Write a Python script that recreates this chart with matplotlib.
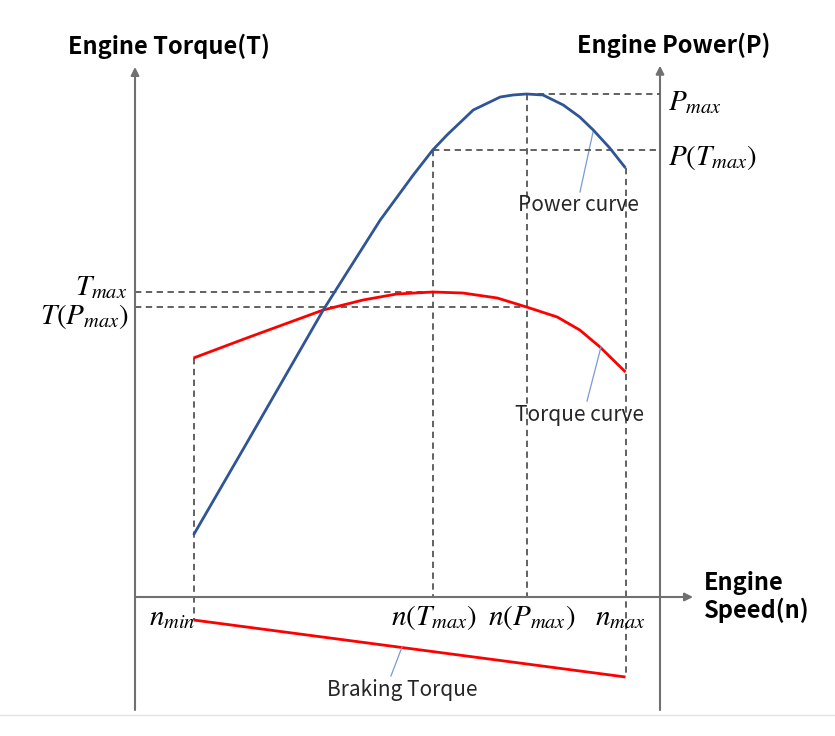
import matplotlib
matplotlib.use("Agg")
import matplotlib.pyplot as plt
from matplotlib.lines import Line2D

plt.rcParams['font.family'] = ['Noto Sans CJK KR', 'DejaVu Sans']
plt.rcParams['mathtext.fontset'] = 'stix'

# characteristic speeds (rpm)
n_min = 780
n_tmax = 3970
n_pmax = 5220
n_max = 6540

# power curve (kW)
power_speed = [780, 1490, 2510, 2830, 3270, 3710, 3970, 4160, 4510, 4870, 5040, 5220,
               5440, 5710, 5930, 6110, 6330, 6540]
power_vals = [24.8, 61.6, 114.8, 130.0, 150.8, 168.8, 178.8, 184.8, 194.8, 200.0, 200.8, 201.2,
              200.8, 196.8, 192.0, 186.8, 179.6, 171.6]

# torque curve (Nm)
torque_speed = [780, 1490, 2510, 3040, 3490, 3970, 4370, 4830, 5220, 5630, 5930, 6200, 6540]
torque_vals = [239, 259, 287, 297, 303, 305, 304, 299, 290, 280, 267, 250, 225]

# braking torque (Nm)
brake_speed = [780, 6540]
brake_vals = [-23, -80]

t_max = 305
t_at_pmax = 290
p_max = 201.2
p_at_tmax = 178.8

T_LIM = (-113, 530)
P_LIM = (-45.2, 212)


def p2t(p):
    return T_LIM[0] + (p - P_LIM[0]) / (P_LIM[1] - P_LIM[0]) * (T_LIM[1] - T_LIM[0])


fig = plt.figure(figsize=(8.35, 7.36), dpi=100)
ax = fig.add_axes([135 / 835, 26 / 736, 525 / 835, 643 / 736])
ax.set_xlim(0, 7000)
ax.set_ylim(*T_LIM)
ax2 = ax.twinx()
ax2.set_ylim(*P_LIM)
for a in (ax, ax2):
    a.set_axis_off()

axis_col = '#707070'
dash_col = '#555555'
arr = dict(arrowstyle='-|>', color=axis_col, lw=1.5, mutation_scale=12, shrinkA=0, shrinkB=0)

# axes lines with arrows
ax.annotate('', xy=(0, 1.0), xytext=(0, 0), xycoords='axes fraction', arrowprops=arr)
ax.annotate('', xy=(1, 1.002), xytext=(1, 0), xycoords='axes fraction', arrowprops=arr)
ax.annotate('', xy=(7440, 0), xytext=(0, 0), xycoords='data', arrowprops=arr, annotation_clip=False)

ds = (0, (3.5, 2.5))
# horizontal dashed guides
ax.plot([0, n_tmax], [t_max, t_max], color=dash_col, lw=1.3, ls=ds)
ax.plot([0, n_pmax], [t_at_pmax, t_at_pmax], color=dash_col, lw=1.3, ls=ds)
ax2.plot([n_tmax, 7000], [p_at_tmax, p_at_tmax], color=dash_col, lw=1.3, ls=ds)
ax2.plot([n_pmax, 7000], [p_max, p_max], color=dash_col, lw=1.3, ls=ds)
# vertical dashed guides
ax.plot([n_min, n_min], [torque_vals[0], brake_vals[0]], color=dash_col, lw=1.3, ls=ds)
ax.plot([n_tmax, n_tmax], [p2t(p_at_tmax), 0], color=dash_col, lw=1.3, ls=ds)
ax.plot([n_pmax, n_pmax], [p2t(p_max), 0], color=dash_col, lw=1.3, ls=ds)
ax.plot([n_max, n_max], [p2t(power_vals[-1]), brake_vals[-1]], color=dash_col, lw=1.3, ls=ds)

# curves
ax2.plot(power_speed, power_vals, color='#2f5597', lw=2.0, solid_capstyle='butt', solid_joinstyle='round')
ax.plot(torque_speed, torque_vals, color='#ff0000', lw=2.0, solid_capstyle='butt', solid_joinstyle='round')
ax.plot(brake_speed, brake_vals, color='#ff0000', lw=2.0, solid_capstyle='butt')

# leader lines and curve names
lead = dict(color='#7a9ad6', lw=0.9)
name_kw = dict(ha='center', va='center', fontsize=15, color='#262626')
ax.plot([6107, 5933], [465, 405], **lead)
ax.text(5907, 392, 'Power curve', **name_kw)
ax.plot([6213, 6027], [250, 196], **lead)
ax.text(5933, 182, 'Torque curve', **name_kw)
ax.plot([3560, 3413], [-50, -79], **lead)
ax.text(3560, -93, 'Braking Torque', **name_kw)

# math labels
ms = 21
ax.text(-107, 310, r'$T_{max}$', ha='right', va='center', fontsize=ms, clip_on=False)
ax.text(-80, 281, r'$T(P_{max})$', ha='right', va='center', fontsize=ms, clip_on=False)
ax2.text(7107, 198.0, r'$P_{max}$', ha='left', va='center', fontsize=ms, clip_on=False)
ax2.text(7107, 176.0, r'$P(T_{max})$', ha='left', va='center', fontsize=ms, clip_on=False)
ax.text(493, -20, r'$n_{min}$', ha='center', va='center', fontsize=ms)
ax.text(3987, -20, r'$n(T_{max})$', ha='center', va='center', fontsize=ms)
ax.text(5293, -20, r'$n(P_{max})$', ha='center', va='center', fontsize=ms)
ax.text(6467, -20, r'$n_{max}$', ha='center', va='center', fontsize=ms)

# axis titles
title_kw = dict(fontsize=17, fontweight='bold')
fig.text(169 / 835, 1 - 46 / 736, 'Engine Torque(T)', ha='center', va='center', **title_kw)
fig.text(674 / 835, 1 - 45 / 736, 'Engine Power(P)', ha='center', va='center', **title_kw)
fig.text(704 / 835, 1 - 597 / 736, 'Engine\nSpeed(n)', ha='left', va='center', linespacing=1.15, **title_kw)

# thin frame line at the bottom
fig.add_artist(Line2D([0, 1], [1 - 715 / 736, 1 - 715 / 736], color='#e2e2e2', lw=1.0))

fig.savefig('out.png', dpi=100)
